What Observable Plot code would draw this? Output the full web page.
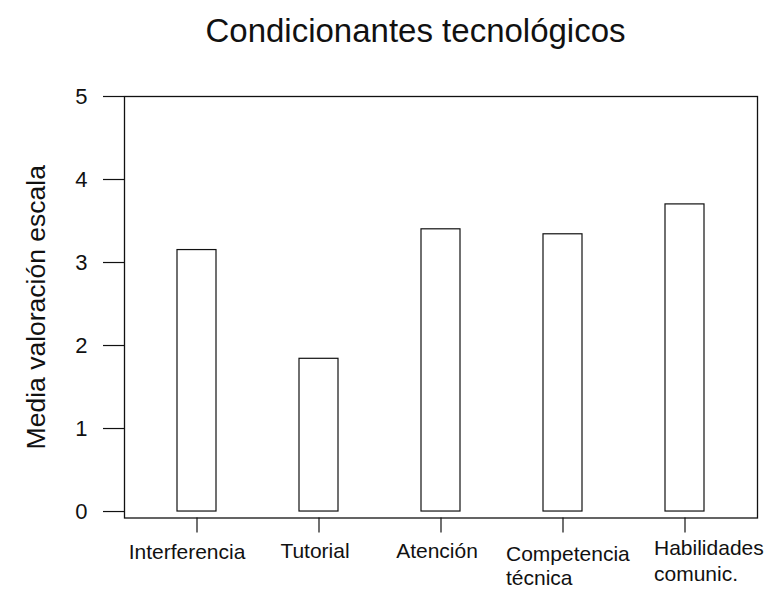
<!DOCTYPE html>
<html>
<head>
<meta charset="utf-8">
<script src="https://cdn.jsdelivr.net/npm/d3@7"></script>
<script src="https://cdn.jsdelivr.net/npm/@observablehq/plot@0.6"></script>
<style>
  html, body { margin: 0; padding: 0; background: white; }
</style>
</head>
<body>
<div id="chart"></div>
<script>
const categories = ["Interferencia", "Tutorial", "Atención", "Competencia\ntécnica", "Habilidades\ncomunic."];
const values = [3.15, 1.84, 3.40, 3.34, 3.70];
const yTicks = [0, 1, 2, 3, 4, 5];
const titleText = "Condicionantes tecnológicos";
const yLabel = "Media valoración escala";

const data = categories.map((c, i) => ({cat: c, value: values[i]}));
const ink = "#111";

const chart = Plot.plot({
  width: 772,
  height: 590,
  marginLeft: 135.6,
  marginRight: 25.6,
  marginTop: 96,
  marginBottom: 72.5,
  style: {fontFamily: "Arial, 'Liberation Sans', sans-serif", background: "white", color: ink},
  x: {domain: categories, paddingInner: 0.677, paddingOuter: 0.3385},
  y: {domain: [-0.078, 5]},
  marks: [
    Plot.frame({insetLeft: -11.6, insetRight: -10.6, stroke: ink, strokeWidth: 1.3}),
    Plot.barY(data, {x: "cat", y: "value", fill: "white", stroke: ink, strokeWidth: 1.2}),
    Plot.axisY({ticks: yTicks, tickFormat: d3.format("d"), tickSize: 21, dx: -11.6, tickPadding: 16,
      fontSize: 22, label: null, strokeWidth: 1.2}),
    Plot.text([yLabel], {frameAnchor: "left", rotate: -90, dx: -100, fontSize: 26.5, text: d => d,
      textAnchor: "middle", lineAnchor: "middle", fill: ink}),
    // tick lines
    Plot.axisX({tickSize: 15, tickFormat: () => "", label: null, strokeWidth: 1.2}),
    // tick labels
    Plot.axisX({ticks: [categories[0]], tickSize: 0, tickPadding: 26.5, dx: -10, fontSize: 21,
      label: null, lineAnchor: "top"}),
    Plot.axisX({ticks: [categories[1], categories[2]], tickSize: 0, tickPadding: 25, dx: -4, fontSize: 21,
      label: null, lineAnchor: "top"}),
    Plot.axisX({ticks: [categories[3]], tickSize: 0, tickPadding: 25.5, dx: -57, fontSize: 21,
      label: null, lineAnchor: "top", textAnchor: "start", lineHeight: 1.15}),
    Plot.axisX({ticks: [categories[4]], tickSize: 0, tickPadding: 19.5, dx: -31, fontSize: 21,
      label: null, lineAnchor: "top", textAnchor: "start", lineHeight: 1.2}),
    Plot.text([titleText], {frameAnchor: "top", dy: -55, dx: -26, fontSize: 33, lineAnchor: "bottom",
      text: d => d, fill: ink})
  ]
});
document.getElementById("chart").appendChild(chart);
</script>
</body>
</html>
